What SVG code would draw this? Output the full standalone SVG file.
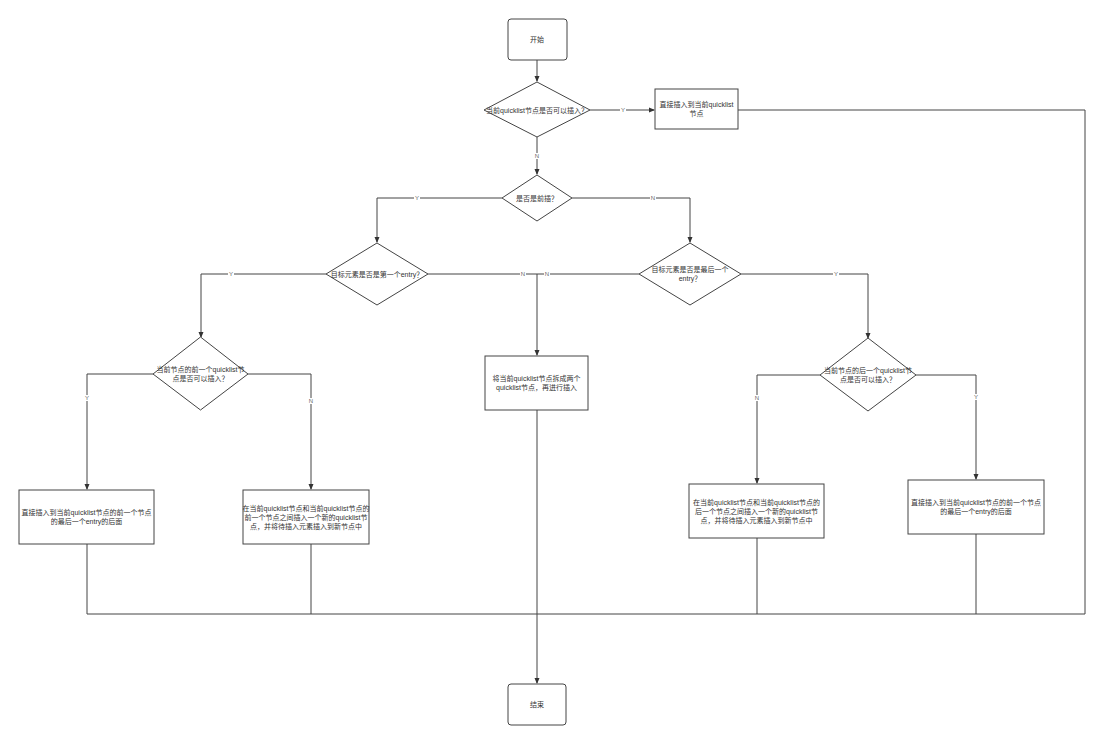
<svg xmlns="http://www.w3.org/2000/svg" width="1098" height="738" viewBox="0 0 1098 738">
<style>
.n{fill:#fff;stroke:#444;stroke-width:1}
.t{font-family:"Liberation Sans","Noto Sans CJK SC",sans-serif;font-size:7px;fill:#333;text-anchor:middle}
.c{fill:none;stroke:#444;stroke-width:1}
.l{font-family:"Liberation Sans","Noto Sans CJK SC",sans-serif;font-size:6px;fill:#666;text-anchor:middle}
.lb{fill:#fff}
</style>
<defs>
<marker id="a" markerWidth="6" markerHeight="6" refX="5" refY="3" orient="auto" markerUnits="userSpaceOnUse">
<path d="M0,0.5 L6,3 L0,5.5 Z" fill="#333"/>
</marker>
</defs>
<rect width="1098" height="738" fill="#fff"/>
<g id="connectors">
<path class="c" d="M537,60 V81" marker-end="url(#a)"/>
<path class="c" d="M590,110 H654" marker-end="url(#a)"/>
<path class="c" d="M738,110 H1085 V614 H87"/>
<path class="c" d="M537,137 V174" marker-end="url(#a)"/>
<path class="c" d="M502,198 H377 V242" marker-end="url(#a)"/>
<path class="c" d="M572,198 H690 V242" marker-end="url(#a)"/>
<path class="c" d="M326,274 H201 V337" marker-end="url(#a)"/>
<path class="c" d="M741,274 H868 V338" marker-end="url(#a)"/>
<path class="c" d="M428,274 H537"/>
<path class="c" d="M639,274 H537 V355" marker-end="url(#a)"/>
<path class="c" d="M153,374 H87 V489" marker-end="url(#a)"/>
<path class="c" d="M248,374 H311 V489" marker-end="url(#a)"/>
<path class="c" d="M820,375 H757 V483" marker-end="url(#a)"/>
<path class="c" d="M916,375 H976 V479" marker-end="url(#a)"/>
<path class="c" d="M87,544 V614"/>
<path class="c" d="M311,544 V614"/>
<path class="c" d="M757,538 V614"/>
<path class="c" d="M976,534 V614"/>
<path class="c" d="M537,410 V683" marker-end="url(#a)"/>
<g>
<rect class="lb" x="620" y="107" width="6" height="6"/><text class="l" x="623" y="112">Y</text>
<rect class="lb" x="534" y="153" width="6" height="6"/><text class="l" x="537" y="158">N</text>
<rect class="lb" x="414" y="195" width="6" height="6"/><text class="l" x="417" y="200">Y</text>
<rect class="lb" x="650" y="195" width="6" height="6"/><text class="l" x="653" y="200">N</text>
<rect class="lb" x="228" y="271" width="6" height="6"/><text class="l" x="231" y="276">Y</text>
<rect class="lb" x="833" y="271" width="6" height="6"/><text class="l" x="836" y="276">Y</text>
<rect class="lb" x="520" y="271" width="6" height="6"/><text class="l" x="523" y="276">N</text>
<rect class="lb" x="544" y="271" width="6" height="6"/><text class="l" x="547" y="276">N</text>
<rect class="lb" x="84" y="395" width="6" height="6"/><text class="l" x="87" y="400">Y</text>
<rect class="lb" x="308" y="398" width="6" height="6"/><text class="l" x="311" y="403">N</text>
<rect class="lb" x="754" y="395" width="6" height="6"/><text class="l" x="757" y="400">N</text>
<rect class="lb" x="973" y="394" width="6" height="6"/><text class="l" x="976" y="399">Y</text>
</g>
</g>
<g id="start"><rect class="n" x="508" y="19" width="59" height="41" rx="3"/><text class="t" x="537" y="42">开始</text></g>
<g id="d1"><polygon class="n" points="537,82 590,110 537,137 484,110"/><text class="t" x="537" y="112.5">当前quicklist节点是否可以插入？</text></g>
<g id="b1"><rect class="n" x="655" y="89" width="83" height="40"/><text class="t" x="696.5" y="107">直接插入到当前quicklist</text><text class="t" x="696.5" y="116">节点</text></g>
<g id="d2"><polygon class="n" points="537,175 572,198 537,221 502,198"/><text class="t" x="537" y="200.5">是否是前插？</text></g>
<g id="d3"><polygon class="n" points="377,243 428,274 377,305 326,274"/><text class="t" x="377" y="276.5">目标元素是否是第一个entry？</text></g>
<g id="d4"><polygon class="n" points="690,243 741,274 690,305 639,274"/><text class="t" x="690" y="272">目标元素是否是最后一个</text><text class="t" x="690" y="281">entry？</text></g>
<g id="mid"><rect class="n" x="485" y="356" width="103" height="54"/><text class="t" x="536.5" y="381">将当前quicklist节点拆成两个</text><text class="t" x="536.5" y="390">quicklist节点，再进行插入</text></g>
<g id="d5"><polygon class="n" points="200.5,337 248,374 200.5,410 153,374"/><text class="t" x="200.5" y="372">当前节点的前一个quicklist节</text><text class="t" x="200.5" y="381">点是否可以插入？</text></g>
<g id="d6"><polygon class="n" points="868,338 916,375 868,411 820,375"/><text class="t" x="868" y="373">当前节点的后一个quicklist节</text><text class="t" x="868" y="382">点是否可以插入？</text></g>
<g id="bA"><rect class="n" x="19" y="490" width="135" height="54"/><text class="t" x="86.5" y="515">直接插入到当前quicklist节点的前一个节点</text><text class="t" x="86.5" y="524">的最后一个entry的后面</text></g>
<g id="bB"><rect class="n" x="243" y="490" width="126" height="54"/><text class="t" x="306" y="510.5">在当前quicklist节点和当前quicklist节点的</text><text class="t" x="306" y="519.5">前一个节点之间插入一个新的quicklist节</text><text class="t" x="306" y="528.5">点，并将待插入元素插入到新节点中</text></g>
<g id="bC"><rect class="n" x="689" y="484" width="135" height="54"/><text class="t" x="756.5" y="504.5">在当前quicklist节点和当前quicklist节点的</text><text class="t" x="756.5" y="513.5">后一个节点之间插入一个新的quicklist节</text><text class="t" x="756.5" y="522.5">点，并将待插入元素插入到新节点中</text></g>
<g id="bD"><rect class="n" x="908" y="480" width="136" height="54"/><text class="t" x="976" y="505">直接插入到当前quicklist节点的前一个节点</text><text class="t" x="976" y="514">的最后一个entry的后面</text></g>
<g id="end"><rect class="n" x="508" y="684" width="58" height="41" rx="3"/><text class="t" x="537" y="707">结束</text></g>
</svg>
